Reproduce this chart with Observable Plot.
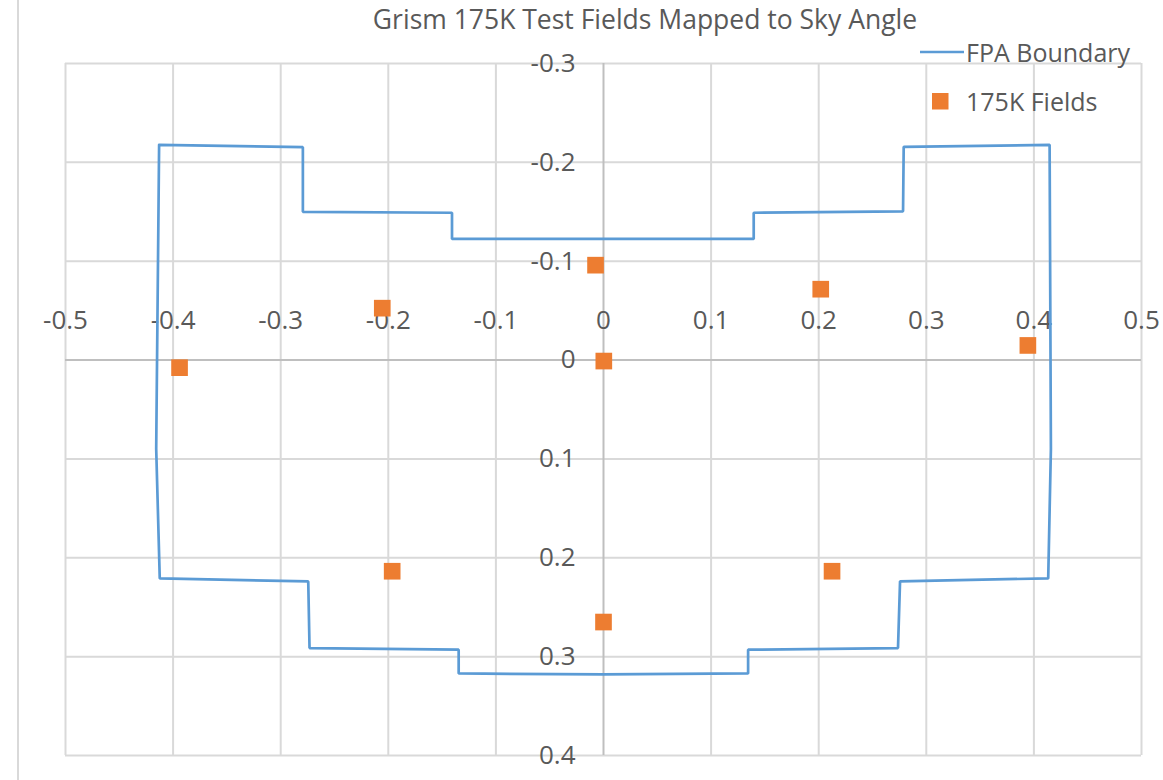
<!DOCTYPE html>
<html>
<head>
<meta charset="utf-8">
<script src="https://cdn.jsdelivr.net/npm/d3@7"></script>
<script src="https://cdn.jsdelivr.net/npm/@observablehq/plot@0.6"></script>
<style>
  html, body { margin: 0; padding: 0; background: #fff; }
  #wrap { position: relative; width: 1163px; height: 780px; overflow: hidden; font-family: "Open Sans", sans-serif; color: #595959; }
  #border { position: absolute; left: 17px; top: 0; width: 0; height: 780px; border-left: 2px solid #d9d9d9; }
  #title { position: absolute; left: 0; width: 1290px; top: 1px; text-align: center; font-size: 26.5px; color: #595959; white-space: nowrap; }
  .leg { position: absolute; font-size: 25px; color: #595959; white-space: nowrap; display: flex; align-items: center; }
  #chart { position: absolute; left: 0; top: 0; }
</style>
</head>
<body>
<div id="wrap">
  <div id="border"></div>
  <div id="chart"></div>
  <div id="title">Grism 175K Test Fields Mapped to Sky Angle</div>
  <div class="leg" id="leg1" style="left:920px; top:35px;"><svg width="46" height="10"><line x1="0" y1="5" x2="44" y2="5" stroke="#5B9BD5" stroke-width="2.7"/></svg><span id="l1"></span></div>
  <div class="leg" id="leg2" style="left:932px; top:84px;"><svg width="34" height="20"><rect x="0" y="2" width="16.5" height="16.5" fill="#ED7D31"/></svg><span id="l2"></span></div>
</div>
<script>
// Series names
const seriesNames = ["FPA Boundary", "175K Fields"];

// FPA boundary polygon (sky angle x, y)
const boundaryX = [-0.413, -0.2794, -0.2794, -0.1408, -0.1408, 0.1396, 0.1396, 0.2784, 0.2790, 0.4146, 0.4158, 0.4133, 0.2756, 0.2737, 0.1344, 0.1344, 0.0, -0.1346, -0.1346, -0.2732, -0.2744, -0.4124, -0.4157, -0.413];
const boundaryY = [-0.2177, -0.2154, -0.1500, -0.1490, -0.1225, -0.1225, -0.1490, -0.1505, -0.2157, -0.2177, 0.09, 0.2208, 0.2239, 0.2913, 0.2930, 0.3170, 0.3180, 0.3170, 0.2930, 0.2913, 0.2239, 0.2208, 0.09, -0.2177];

// 175K test fields
const fieldX = [-0.0074, 0.0003, -0.2056, 0.2019, 0.3944, -0.394, -0.1964, 0.2124, 0.0];
const fieldY = [-0.096, 0.001, -0.0525, -0.0717, -0.0148, 0.0077, 0.2136, 0.2136, 0.265];

// Axis ticks
const xTicks = [-0.5, -0.4, -0.3, -0.2, -0.1, 0, 0.1, 0.2, 0.3, 0.4, 0.5];
const xTickLabels = ["-0.5", "-0.4", "-0.3", "-0.2", "-0.1", "0", "0.1", "0.2", "0.3", "0.4", "0.5"];
const yTicks = [-0.3, -0.2, -0.1, 0, 0.1, 0.2, 0.3, 0.4];
const yTickLabels = ["-0.3", "-0.2", "-0.1", "0", "0.1", "0.2", "0.3", "0.4"];

const boundary = boundaryX.map((x, i) => ({x, y: boundaryY[i]}));
const fields = fieldX.map((x, i) => ({x, y: fieldY[i]}));
const xt = xTicks.map((v, i) => ({v, label: xTickLabels[i]}));
const yt = yTicks.map((v, i) => ({v, label: yTickLabels[i]}));

document.getElementById("l1").textContent = seriesNames[0];
document.getElementById("l2").textContent = seriesNames[1];

const grid = "#d9d9d9";
const axisCol = "#bfbfbf";
const textCol = "#595959";

const chart = Plot.plot({
  width: 1163,
  height: 780,
  marginLeft: 65,
  marginRight: 22,
  marginTop: 63,
  marginBottom: 25,
  style: {fontFamily: "Open Sans, sans-serif", background: "transparent", overflow: "visible"},
  x: {domain: [-0.5, 0.5], axis: null},
  y: {domain: [-0.3, 0.4], reverse: true, axis: null},
  marks: [
    Plot.ruleX(xTicks.filter(d => d !== 0), {stroke: grid, strokeWidth: 2}),
    Plot.ruleY(yTicks.filter(d => d !== 0), {stroke: grid, strokeWidth: 2}),
    Plot.ruleX([0], {stroke: axisCol, strokeWidth: 2}),
    Plot.ruleY([0], {stroke: axisCol, strokeWidth: 2}),
    Plot.text(xt, {x: "v", y: 0, text: "label", dy: -39, fill: textCol, fontSize: 26, textAnchor: "middle"}),
    Plot.text(yt, {x: 0, y: "v", text: "label", dx: -28, fill: textCol, fontSize: 26, textAnchor: "end"}),
    Plot.line(boundary, {x: "x", y: "y", stroke: "#5B9BD5", strokeWidth: 2.7, strokeLinejoin: "miter"}),
    Plot.dot(fields, {x: "x", y: "y", symbol: "square", r: 9.4, fill: "#ED7D31", stroke: "none"})
  ]
});
document.getElementById("chart").appendChild(chart);
</script>
</body>
</html>
